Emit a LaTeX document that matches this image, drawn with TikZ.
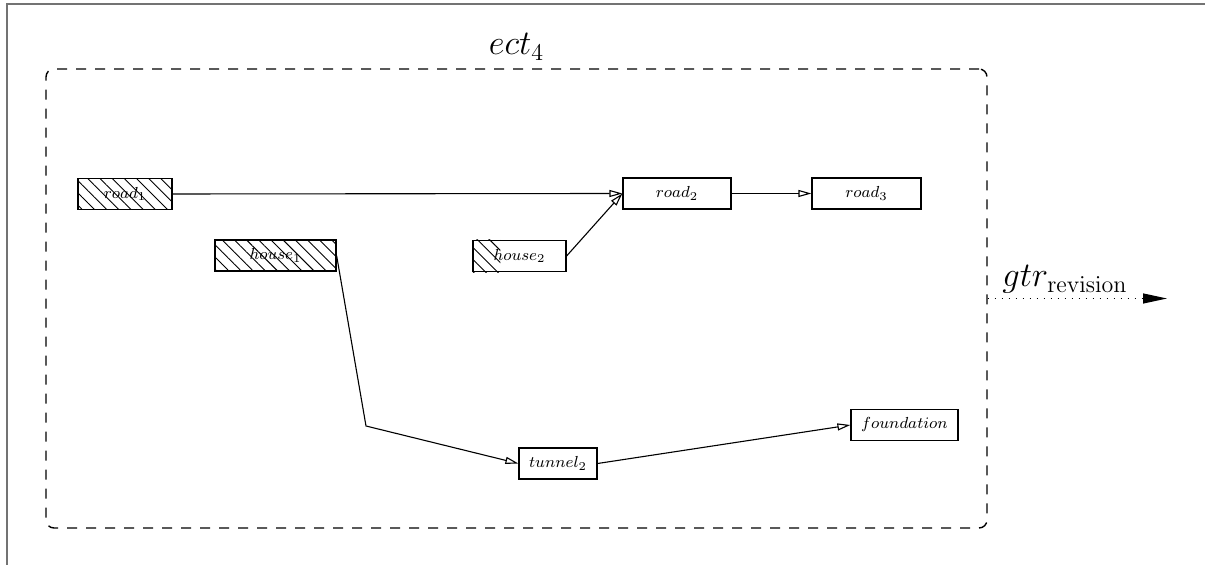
\documentclass[tikz,border=0pt]{standalone}
\usetikzlibrary{arrows.meta,patterns.meta,backgrounds}
\begin{document}
\begin{tikzpicture}[x=0.5pt,y=-0.5pt,
  box/.style={draw, line width=0.6pt, minimum height=15.5pt, inner sep=0pt, font=\fontsize{8.5}{10}\selectfont},
  arr/.style={line width=0.55pt, -{Triangle[open,length=6.5pt,width=3.5pt]}},
  hatch/.style={pattern={Lines[angle=-45,distance=4.3pt,line width=0.45pt]}},
  region/.style={draw, dashed, dash pattern=on 5pt off 4.5pt, line width=0.7pt, rounded corners=4pt, inner sep=0pt},
  biglabel/.style={font=\fontsize{17.5}{20}\selectfont, inner sep=0pt},
  frameline/.style={draw=black!55, line width=1pt}
]
\useasboundingbox (0,0) rectangle (1205,565);
\draw[frameline] (7,570) -- (7,4) -- (1210,4);

\node[region, minimum width=470.5pt, minimum height=229.5pt] (ect4box) at (516.5,298.5) {};
\node[biglabel, anchor=base] (ect4label) at (516.5,55) {$ect_4$};

\node[box, hatch, minimum width=47pt] (road1) at (125,194) {$road_1$};
\node[box, hatch, minimum width=60.5pt] (house1) at (275.5,255.5) {$house_1$};
\node[box, minimum width=54pt] (road2) at (677,193.5) {$road_2$};
\node[box, minimum width=54.5pt] (road3) at (866.5,193.5) {$road_3$};
\node[box, minimum width=46.5pt] (house2) at (519.5,256) {$house_2$};
\begin{scope}[on background layer]
  \path[hatch] (house2.north west) rectangle ([xshift=14pt]house2.south west);
\end{scope}
\node[box, minimum width=39pt] (tunnel2) at (558,463.5) {$tunnel_2$};
\node[box, minimum width=53.5pt] (foundation) at (904.5,425) {$foundation$};

\coordinate (elbow) at (366,426);
\coordinate (gtrend) at (1167,298.5);

\draw[arr] (road1.east) -- (road2.west);
\draw[arr] (house2.east) -- (road2.west);
\draw[arr] (road2.east) -- (road3.west);
\draw[arr] (house1.east) -- (elbow) -- (tunnel2.west);
\draw[arr] (tunnel2.east) -- (foundation.west);

\draw[line width=0.6pt, dash pattern=on 0.6pt off 2.9pt, -{Triangle[length=12pt,width=5pt]}] (ect4box.east) -- (gtrend);
\node[biglabel, anchor=base west] (gtrlabel) at (1002,287) {$gtr_{\mathrm{revision}}$};
\end{tikzpicture}
\end{document}
